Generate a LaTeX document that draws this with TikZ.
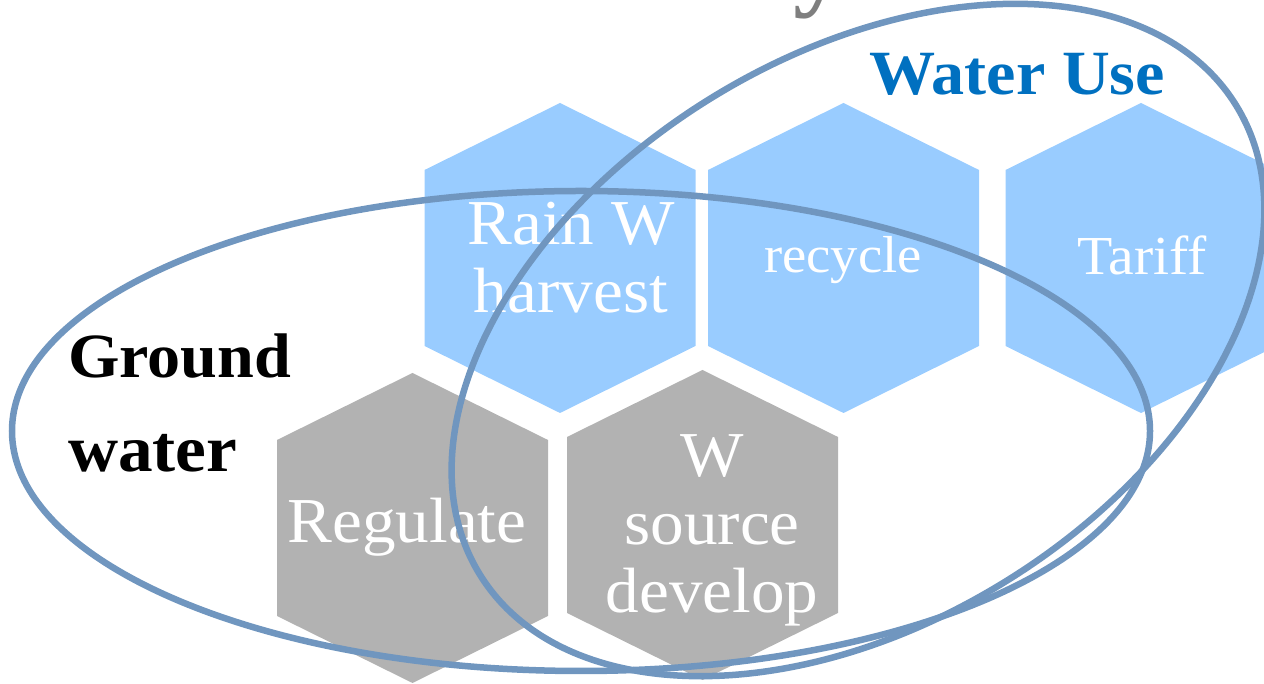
\documentclass[tikz,border=0pt]{standalone}
\usepackage{fontspec}
\setmainfont{Liberation Serif}[FakeStretch=1.05]
\definecolor{hexblue}{HTML}{99CCFF}
\definecolor{hexgray}{HTML}{B2B2B2}
\definecolor{ringblue}{HTML}{7096BF}
\definecolor{titleblue}{HTML}{0070C0}
\definecolor{titlegray}{HTML}{7F7F7F}
\begin{document}
\begin{tikzpicture}[x=1pt,y=1pt,
  ring/.style={draw=ringblue, line width=6.5pt},
  hextext/.style={text=white, align=center, inner sep=0pt, font=\fontsize{64}{68}\selectfont},
  lbl/.style={anchor=base west, inner sep=0pt, font=\bfseries\fontsize{63}{63}\selectfont}]
\useasboundingbox (0,0) rectangle (1264,684);
\clip (0,0) rectangle (1264,684);
\coordinate (c1) at (560,426);
\coordinate (c2) at (843.5,426);
\coordinate (c3) at (1141,426);
\coordinate (c4) at (412.5,156);
\coordinate (c5) at (702.5,159);
\foreach \c/\col in {c1/hexblue,c2/hexblue,c3/hexblue,c4/hexgray,c5/hexgray}
  \fill[\col, shift={(\c)}] (0,155) -- (135.5,88) -- (135.5,-88) -- (0,-155) -- (-135.5,-88) -- (-135.5,88) -- cycle;
\node[hextext] (t1) at (571,426) {Rain W\\harvest};
\node[hextext, font=\fontsize{52}{56}\selectfont] (t2) at (843,424) {recycle};
\node[hextext, font=\fontsize{55}{60}\selectfont] (t3) at (1142,429) {Tariff};
\node[hextext] (t4) at (407,157) {Regulate};
\node[hextext] (t5) at (712,154) {W\\source\\develop};
\node[anchor=base west, inner sep=0pt, font=\bfseries\fontsize{100}{100}\selectfont, text=titlegray] (ttl) at (793,686) {y};
\draw[ring] (581,253) ellipse [x radius=569, y radius=240];
\draw[ring, rotate around={31.9:(858,344)}] (858,344) ellipse [x radius=445, y radius=283];
\node[lbl, text=titleblue] (wu) at (869,589) {Water Use};
\node[lbl] (gw1) at (68,306) {Ground};
\node[lbl, font=\bfseries\fontsize{66}{66}\selectfont] (gw2) at (68,212) {water};
\end{tikzpicture}
\end{document}
